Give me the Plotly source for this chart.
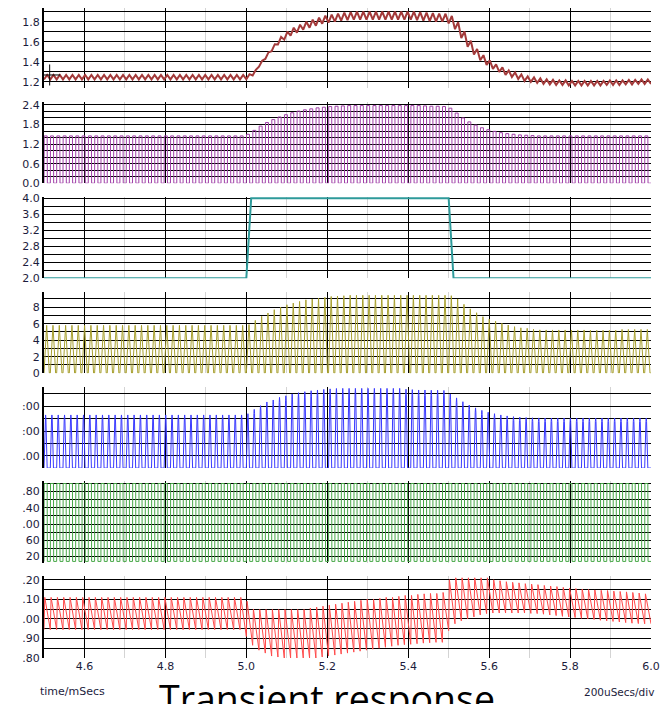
import plotly.graph_objects as go
from plotly.subplots import make_subplots

# ---------------- data ----------------
T_START = 4.5            # ms
PERIOD = 0.015625        # ms, switching period (64 kHz)
N_CYC = 96

# Panel 1: output voltage, per-cycle mean and ripple (p-p)
vout_mean = ([1.245] * 32 +
             [1.25, 1.29, 1.38, 1.46, 1.54, 1.61, 1.66, 1.70, 1.73, 1.76, 1.78, 1.80, 1.82, 1.83, 1.84, 1.85,
              1.855] + [1.86] * 10 + [1.855, 1.85, 1.845, 1.84, 1.84] +
             [1.82, 1.76, 1.67, 1.58, 1.50, 1.44, 1.39, 1.35, 1.32, 1.29, 1.27, 1.25, 1.23, 1.22, 1.21, 1.20,
              1.195, 1.19, 1.19, 1.185, 1.185, 1.185, 1.185, 1.185, 1.185, 1.19, 1.19, 1.19, 1.195, 1.195, 1.20, 1.20])
vout_ripple = ([0.045] * 32 +
               [0.05, 0.055, 0.06, 0.065, 0.07, 0.075] + [0.08] * 26 +
               [0.075, 0.07, 0.065, 0.06, 0.055, 0.05] + [0.045] * 26)

# Panel 2: purple pulse peaks
purple_peak = ([1.45] * 32 +
               [1.50, 1.62, 1.75, 1.86, 1.95, 2.03, 2.10, 2.16, 2.21, 2.25, 2.28, 2.31, 2.33, 2.35, 2.36, 2.37] +
               [2.38] * 12 + [2.37, 2.36, 2.36, 2.35] +
               [2.30, 2.15, 2.00, 1.88, 1.78, 1.70, 1.64, 1.59, 1.55, 1.52, 1.50, 1.48, 1.47, 1.46, 1.45, 1.45] +
               [1.45] * 16)

# Panel 3: teal step (time, value)
teal_t = [4.5, 5.0, 5.012, 5.5, 5.512, 6.0]
teal_v = [2.0, 2.0, 4.0, 4.0, 2.0, 2.0]

# Panel 4: yellow triangle peaks
yellow_peak = ([5.8] * 32 +
               [5.9, 6.4, 6.9, 7.3, 7.7, 8.0, 8.3, 8.5, 8.7, 8.9, 9.0, 9.1, 9.2, 9.3, 9.35, 9.4] + [9.45] * 16 +
               [9.4, 9.0, 8.35, 7.8, 7.33, 6.85, 6.57, 6.3, 6.05, 5.84, 5.64, 5.5, 5.44, 5.32, 5.25, 5.24] +
               [5.24] * 6 + [5.2] * 5 + [5.3] * 5)

# Panel 5: blue pulse peaks
blue_peak = ([430] * 32 +
             [440, 475, 505, 535, 551, 572, 585, 600, 610, 618, 626, 632, 637, 641, 644] + [645] * 10 +
             [638, 635, 632, 632, 630, 630, 628] +
             [600, 568, 537, 510, 487, 467, 452, 440, 430, 422, 416, 412, 409, 407, 406] + [405] * 17)

# Panel 6: green square wave levels
green_high = [200] * N_CYC
green_low = [8] * N_CYC

# Panel 7: red sawtooth high / low
red_high = ([1.11] * 32 +
            [1.09, 1.05] + [1.048] * 8 +
            [1.055, 1.06, 1.065, 1.07, 1.075, 1.08, 1.085, 1.09, 1.095, 1.10, 1.10, 1.105, 1.11, 1.11, 1.115,
             1.12, 1.12, 1.125, 1.128, 1.13, 1.13, 1.135] +
            [1.20] + [1.21] * 6 +
            [1.20, 1.195, 1.19, 1.187, 1.184, 1.18, 1.178, 1.175, 1.171, 1.168, 1.165, 1.161, 1.158, 1.155,
             1.152, 1.15, 1.148, 1.146, 1.145, 1.142, 1.14, 1.138, 1.135, 1.132, 1.128])
red_low = ([0.945] * 32 +
           [0.91, 0.865, 0.84, 0.825, 0.81, 0.805] + [0.80] * 6 +
           [0.805, 0.81, 0.815, 0.82, 0.825, 0.83, 0.835, 0.84, 0.845, 0.85, 0.855, 0.86,
            0.865, 0.868, 0.87, 0.873, 0.876, 0.878, 0.88, 0.88] +
           [0.94, 0.975, 0.99, 1.0, 1.01, 1.02, 1.027] + [1.03] * 6 +
           [1.028, 1.027, 1.024, 1.02, 1.017, 1.013, 1.01, 1.007, 1.003, 1.0,
            0.997, 0.993, 0.99, 0.987, 0.984, 0.981, 0.978, 0.976, 0.975])

cursor_t = [4.514]
cursor_v = [1.267]

x_ticks = [4.6, 4.8, 5.0, 5.2, 5.4, 5.6, 5.8, 6.0]

# ---------------- waveform assembly ----------------
zeros = [0.0] * N_CYC


def waveform(lo, hi, shape):
    xs, ys = [], []
    for k in range(N_CYC):
        t0 = T_START + k * PERIOD
        for frac, w in shape:
            xs.append(t0 + frac * PERIOD)
            ys.append(lo[k] + w * (hi[k] - lo[k]))
    xs.append(T_START + N_CYC * PERIOD)
    ys.append(lo[-1] + shape[0][1] * (hi[-1] - lo[-1]))
    return xs, ys


v_lo = [m - r / 2 for m, r in zip(vout_mean, vout_ripple)]
v_hi = [m + r / 2 for m, r in zip(vout_mean, vout_ripple)]

SHAPE_RIPPLE = [(0.0, 0.0), (0.5, 1.0)]
SHAPE_PULSE = [(0.0, 0.0), (0.03, 1.0), (0.5, 1.0), (0.53, 0.0)]
SHAPE_TRI = [(0.0, 0.0), (0.42, 1.0), (0.84, 0.0)]
SHAPE_BLUE = [(0.0, 0.0), (0.2, 0.93), (0.25, 1.0), (0.3, 0.93), (0.5, 0.0)]
SHAPE_SAW = [(0.0, 0.0), (0.12, 1.0)]

fig = make_subplots(rows=7, cols=1, shared_xaxes=True)

x1, y1 = waveform(v_lo, v_hi, SHAPE_RIPPLE)
fig.add_trace(go.Scatter(x=x1, y=y1, mode='lines', line=dict(color='#a33a3a', width=2)), row=1, col=1)
fig.add_trace(go.Scatter(x=cursor_t, y=cursor_v, mode='markers',
                         marker=dict(symbol='cross-thin', size=15, line=dict(color='black', width=1))),
              row=1, col=1)
x2, y2 = waveform(zeros, purple_peak, SHAPE_PULSE)
fig.add_trace(go.Scatter(x=x2, y=y2, mode='lines', line=dict(color='#a040a8', width=1)), row=2, col=1)
fig.add_trace(go.Scatter(x=teal_t, y=teal_v, mode='lines', line=dict(color='#2e9a9a', width=2)), row=3, col=1)
x4, y4 = waveform(zeros, yellow_peak, SHAPE_TRI)
fig.add_trace(go.Scatter(x=x4, y=y4, mode='lines', line=dict(color='#a8a030', width=1)), row=4, col=1)
x5, y5 = waveform(zeros, blue_peak, SHAPE_BLUE)
fig.add_trace(go.Scatter(x=x5, y=y5, mode='lines', line=dict(color='#3a3aff', width=1)), row=5, col=1)
x6, y6 = waveform(green_low, green_high, SHAPE_PULSE)
fig.add_trace(go.Scatter(x=x6, y=y6, mode='lines', line=dict(color='#48a848', width=1)), row=6, col=1)
x7, y7 = waveform(red_low, red_high, SHAPE_SAW)
fig.add_trace(go.Scatter(x=x7, y=y7, mode='lines', line=dict(color='#ff4a4a', width=1)), row=7, col=1)

# ---------------- layout ----------------
# The page body adds an 8 px offset, so figure coordinates = screen coordinates - 8.
FIG_W, FIG_H = 661, 696
M_L, M_R, M_T, M_B = 35.5, 18, 0, 45.7
H_PLOT = FIG_H - M_T - M_B
W_PLOT = FIG_W - M_L - M_R
PITCH = 95
PANEL_TOP0 = -1.3
PANEL_BOT0 = 80.3
TICKFONT = dict(family='DejaVu Sans', size=11, color='#1c1c3c')

y_cfg = [
    dict(range=[1.134, 1.937], tick0=1.2, dtick=0.2, minor=0.1, fmt='.1f'),
    dict(range=[0, 2.5], tick0=0, dtick=0.6, minor=0.2, fmt='.1f'),
    dict(range=[2.0, 4.04], tick0=2.0, dtick=0.4, minor=0.2, fmt='.1f'),
    dict(range=[0, 9.9], tick0=0, dtick=2, minor=1, fmt='d'),
    dict(range=[0, 660], vals=[100, 300, 500], text=['.00', ':00', ':00'], minor=100, m0=0),
    dict(range=[4, 205], vals=[20, 60, 100, 140, 180], text=['20', '60', '.00', '.40', '.80'], minor=20, m0=0),
    dict(range=[0.80, 1.217], vals=[0.8, 0.9, 1.0, 1.1, 1.2], text=['.80', '.90', '.00', '.10', '.20'],
         minor=0.05, m0=0.8),
]

for i, c in enumerate(y_cfg):
    top = max(0.0, PITCH * i + PANEL_TOP0)
    bot = PITCH * i + PANEL_BOT0
    dom = [max(0.0, 1 - bot / H_PLOT), 1 - top / H_PLOT]
    ax = dict(domain=dom, range=c['range'], showgrid=True, gridcolor='black', gridwidth=1,
              zeroline=False, showline=True, linecolor='black', linewidth=2, ticks='',
              tickfont=TICKFONT, fixedrange=True, automargin=False,
              minor=dict(dtick=c['minor'], tick0=c.get('m0', c.get('tick0', 0)), showgrid=True,
                         gridcolor='black', gridwidth=1, ticks=''))
    if 'vals' in c:
        ax.update(tickmode='array', tickvals=c['vals'], ticktext=c['text'])
    else:
        ax.update(tick0=c['tick0'], dtick=c['dtick'], tickformat=c['fmt'])
    fig.layout['yaxis' + ('' if i == 0 else str(i + 1))] = ax

for i in range(7):
    name = 'xaxis' + ('' if i == 0 else str(i + 1))
    fig.layout[name].update(range=[4.5, 6.0], showgrid=True, gridcolor='black', gridwidth=1,
                            tickmode='array', tickvals=x_ticks, ticktext=[f'{v:.1f}' for v in x_ticks],
                            zeroline=False, showline=False, ticks='', tickfont=TICKFONT, automargin=False,
                            minor=dict(dtick=0.1, tick0=4.5, showgrid=True, gridcolor='#d4d4d4',
                                       gridwidth=1, ticks=''))


def px(xs):
    return (xs - 8 - M_L) / W_PLOT


def py(ys):
    return (FIG_H - M_B - (ys - 8)) / H_PLOT


fig.update_layout(
    width=FIG_W, height=FIG_H,
    margin=dict(l=M_L, r=M_R, t=M_T, b=M_B, pad=0),
    paper_bgcolor='white', plot_bgcolor='white',
    showlegend=False,
    annotations=[
        dict(text='time/mSecs', xref='paper', yref='paper', x=px(37), y=py(692),
             xanchor='left', yanchor='middle', showarrow=False,
             font=dict(family='DejaVu Sans', size=11, color='#1c1c3c')),
        dict(text='200uSecs/div', xref='paper', yref='paper', x=px(656), y=py(692),
             xanchor='right', yanchor='middle', showarrow=False,
             font=dict(family='DejaVu Sans', size=10.5, color='#1c1c3c')),
        dict(text='Transient response', xref='paper', yref='paper', x=px(327),
             y=py(671), xanchor='center', yanchor='top', showarrow=False,
             font=dict(family='Open Sans', size=37.5, color='black')),
    ],
)

fig.write_html('out.html')
